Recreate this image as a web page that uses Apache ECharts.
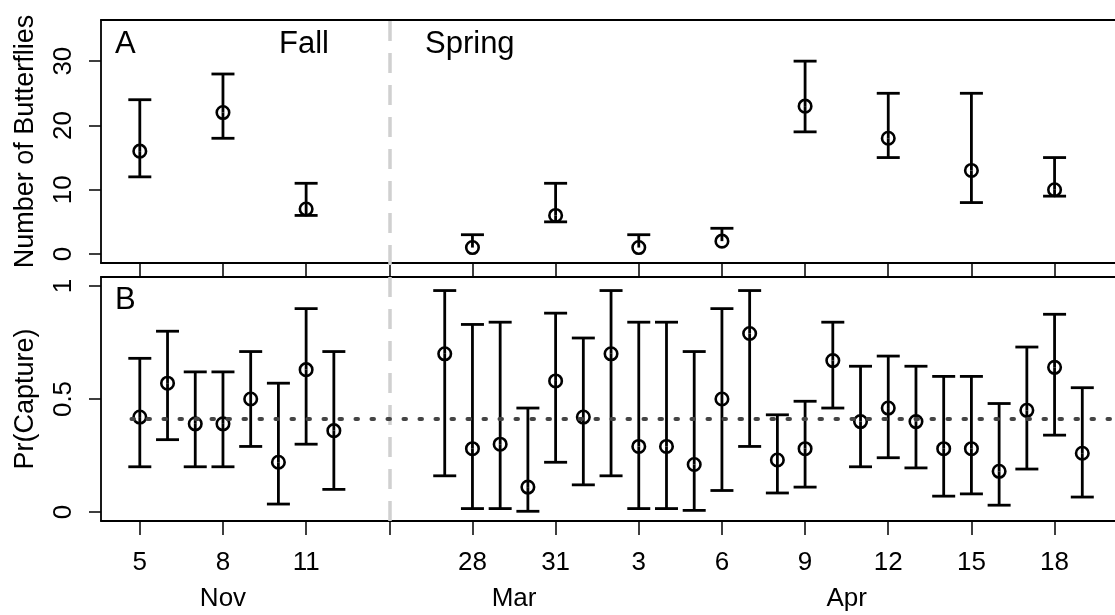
<!DOCTYPE html>
<html>
<head>
<meta charset="utf-8">
<script src="https://cdn.jsdelivr.net/npm/echarts@6/dist/echarts.min.js"></script>
<style>
  html, body { margin: 0; padding: 0; background: #fff; }
  #chart { width: 1115px; height: 615px; }
</style>
</head>
<body>
<div id="chart"></div>
<script>
// x positions are plot days: Nov 5 = 0 ... the winter is collapsed so that Mar 28 = 12
const tickDays = [0, 3, 6, 9, 12, 15, 18, 21, 24, 27, 30, 33];
const tickLabels = ['5', '8', '11', '', '28', '31', '3', '6', '9', '12', '15', '18'];
const monthDays = [3, 13.5, 25.5];
const monthLabels = ['Nov', 'Mar', 'Apr'];
const seasonBreak = 9;

// panel A: number of butterflies
const countDays = [0, 3, 6, 12, 15, 18, 21, 24, 27, 30, 33];
const countEst = [16, 22, 7, 1, 6, 1, 2, 23, 18, 13, 10];
const countLow = [12, 18, 6, 1, 5, 1, 2, 19, 15, 8, 9];
const countHigh = [24, 28, 11, 3, 11, 3, 4, 30, 25, 25, 15];

// panel B: probability of capture
const probDays = [0, 1, 2, 3, 4, 5, 6, 7,
  11, 12, 13, 14, 15, 16, 17, 18, 19, 20, 21, 22,
  23, 24, 25, 26, 27, 28, 29, 30, 31, 32, 33, 34];
const probEst = [0.42, 0.57, 0.39, 0.39, 0.50, 0.22, 0.63, 0.36,
  0.70, 0.28, 0.30, 0.11, 0.58, 0.42, 0.70, 0.29, 0.29, 0.21, 0.50, 0.79,
  0.23, 0.28, 0.67, 0.40, 0.46, 0.40, 0.28, 0.28, 0.18, 0.45, 0.64, 0.26];
const probLow = [0.20, 0.32, 0.20, 0.20, 0.29, 0.035, 0.30, 0.10,
  0.16, 0.015, 0.015, 0.003, 0.22, 0.12, 0.16, 0.015, 0.015, 0.007, 0.095, 0.29,
  0.084, 0.11, 0.46, 0.20, 0.24, 0.195, 0.07, 0.08, 0.03, 0.19, 0.34, 0.066];
const probHigh = [0.68, 0.80, 0.62, 0.62, 0.71, 0.57, 0.90, 0.71,
  0.98, 0.83, 0.84, 0.46, 0.88, 0.77, 0.98, 0.84, 0.84, 0.71, 0.90, 0.98,
  0.43, 0.49, 0.84, 0.645, 0.69, 0.645, 0.60, 0.60, 0.48, 0.73, 0.875, 0.55];
const meanCapture = 0.412;

const FONT = 'Liberation Sans, Arial, Helvetica, sans-serif';
// the plot box runs past the right edge of the picture, so the axis stops at the edge
const X_MIN = -1.4, X_MAX = 35.18;

const chart = echarts.init(document.getElementById('chart'));

function barRows(xs, est, lo, hi) {
  return xs.map((x, i) => [x, lo[i], hi[i], est[i]]);
}

function renderBar(params, api) {
  const x = api.value(0), lo = api.value(1), hi = api.value(2), mid = api.value(3);
  const pm = api.coord([x, mid]);
  const w = 11.5;
  const style = { stroke: '#000', lineWidth: 2.8 };
  const kids = [];
  [hi, lo].forEach(end => {
    if (end === mid) return;
    const p = api.coord([x, end]);
    kids.push({ type: 'line', shape: { x1: pm[0], y1: pm[1], x2: p[0], y2: p[1] }, style });
    kids.push({ type: 'line', shape: { x1: p[0] - w, y1: p[1], x2: p[0] + w, y2: p[1] }, style });
  });
  return { type: 'group', children: kids };
}

const boxLine = { show: true, onZero: false, lineStyle: { color: '#000', width: 1.8 } };

function xAxisFor(grid, showLabels) {
  return {
    type: 'value', gridIndex: grid, min: X_MIN, max: X_MAX, position: 'bottom',
    splitLine: { show: false },
    axisLine: boxLine,
    axisTick: { show: true, customValues: tickDays, length: 14, lineStyle: { color: '#000', width: 1.5 } },
    axisLabel: {
      show: showLabels, customValues: tickDays, margin: 29,
      formatter: v => tickLabels[tickDays.indexOf(v)] || '',
      color: '#000', fontSize: 26, fontFamily: FONT
    }
  };
}

function topEdge(grid) {
  return {
    type: 'value', gridIndex: grid, min: X_MIN, max: X_MAX, position: 'top',
    splitLine: { show: false }, axisLine: boxLine, axisTick: { show: false }, axisLabel: { show: false }
  };
}

function yAxisFor(grid, min, max, ticks, labels, name) {
  return {
    type: 'value', gridIndex: grid, min, max,
    name, nameLocation: 'middle', nameRotate: 90, nameGap: 62,
    nameTextStyle: { color: '#000', fontSize: 27, fontFamily: FONT },
    splitLine: { show: false },
    axisLine: boxLine,
    axisTick: { show: true, customValues: ticks, length: 12, lineStyle: { color: '#000', width: 1.5 } },
    axisLabel: {
      customValues: ticks, rotate: 90, margin: 24,
      formatter: v => labels[ticks.indexOf(v)],
      color: '#000', fontSize: 26, fontFamily: FONT
    }
  };
}

const countTicks = [0, 10, 20, 30];
const probTicks = [0, 0.5, 1];

const panelText = (text, x, y) => ({
  type: 'text', x, y, silent: true,
  style: { text, fill: '#000', font: '31px ' + FONT, verticalAlign: 'middle' }
});

const ring = { color: 'rgba(0,0,0,0)', borderColor: '#000', borderWidth: 2.6, opacity: 1 };

chart.setOption({
  animation: false,
  backgroundColor: '#fff',
  grid: [
    { left: 101, top: 20, right: 0, height: 243 },
    { left: 101, top: 277, right: 0, height: 244 },
    { left: 101, top: 20, right: 0, height: 501 }
  ],
  xAxis: [
    xAxisFor(0, false),
    xAxisFor(1, true),
    {
      type: 'value', gridIndex: 1, min: X_MIN, max: X_MAX, position: 'bottom',
      splitLine: { show: false }, axisLine: { show: false }, axisTick: { show: false },
      axisLabel: {
        customValues: monthDays, margin: 65,
        formatter: v => monthLabels[monthDays.indexOf(v)] || '',
        color: '#000', fontSize: 26, fontFamily: FONT
      }
    },
    { type: 'value', gridIndex: 2, min: X_MIN, max: X_MAX, show: false },
    topEdge(0),
    topEdge(1)
  ],
  yAxis: [
    yAxisFor(0, -1.4, 36.4, countTicks, ['0', '10', '20', '30'], 'Number of Butterflies'),
    yAxisFor(1, -0.04, 1.04, probTicks, ['0', '0.5', '1'], 'Pr(Capture)'),
    { type: 'value', gridIndex: 2, min: 0, max: 1, show: false }
  ],
  graphic: [
    panelText('A', 115, 44),
    panelText('Fall', 279, 44),
    panelText('Spring', 425, 44),
    panelText('B', 115, 300)
  ],
  series: [
    {
      type: 'scatter', xAxisIndex: 3, yAxisIndex: 2, data: [], silent: true,
      markLine: {
        silent: true, symbol: 'none', label: { show: false },
        lineStyle: { color: '#d0d0d0', width: 3.5, type: [20, 12], cap: 'butt' },
        data: [{ xAxis: seasonBreak }]
      }
    },
    {
      type: 'custom', xAxisIndex: 0, yAxisIndex: 0, renderItem: renderBar,
      encode: { x: 0, y: [1, 2, 3] }, data: barRows(countDays, countEst, countLow, countHigh), z: 3
    },
    {
      type: 'scatter', xAxisIndex: 0, yAxisIndex: 0, symbol: 'circle', symbolSize: 12.5,
      itemStyle: ring, data: countDays.map((x, i) => [x, countEst[i]]), z: 4
    },
    {
      type: 'custom', xAxisIndex: 1, yAxisIndex: 1, renderItem: renderBar,
      encode: { x: 0, y: [1, 2, 3] }, data: barRows(probDays, probEst, probLow, probHigh), z: 3,
      markLine: {
        silent: true, symbol: 'none', label: { show: false },
        lineStyle: { color: '#444', width: 4, type: [2.5, 13.5], cap: 'round' },
        data: [[{ coord: [-0.3, meanCapture] }, { coord: [X_MAX, meanCapture] }]]
      }
    },
    {
      type: 'scatter', xAxisIndex: 1, yAxisIndex: 1, symbol: 'circle', symbolSize: 12.5,
      itemStyle: ring, data: probDays.map((x, i) => [x, probEst[i]]), z: 4
    }
  ]
});
</script>
</body>
</html>
